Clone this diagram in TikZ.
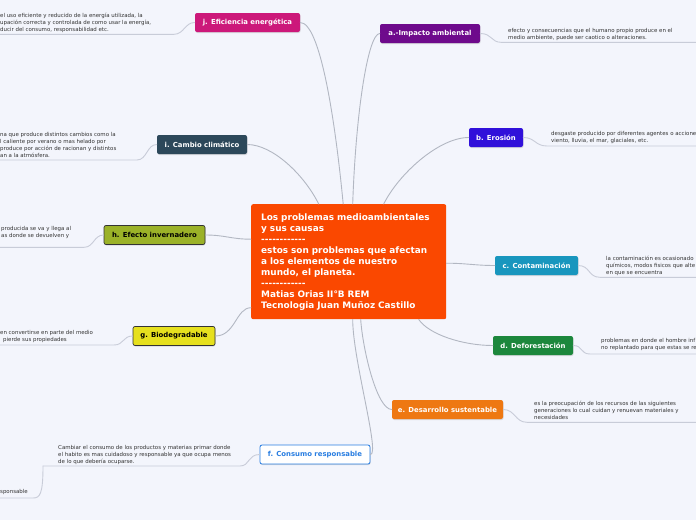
\documentclass[tikz,border=0pt]{standalone}
\usepackage{fontspec}
\setmainfont{DejaVu Sans}
\usetikzlibrary{shadows}
\definecolor{bgblue}{RGB}{243,245,252}
\definecolor{ctrorange}{RGB}{250,72,0}
\definecolor{jpink}{RGB}{204,24,122}
\definecolor{apurple}{RGB}{110,10,140}
\definecolor{bblue}{RGB}{48,16,218}
\definecolor{cteal}{RGB}{24,150,190}
\definecolor{dgreen}{RGB}{28,135,60}
\definecolor{eorange}{RGB}{238,120,18}
\definecolor{fblue}{RGB}{40,125,225}
\definecolor{gyellow}{RGB}{230,224,30}
\definecolor{holive}{RGB}{155,178,40}
\definecolor{islate}{RGB}{44,72,90}
\definecolor{linkgray}{RGB}{178,183,194}
\definecolor{leafgray}{RGB}{200,204,216}
\definecolor{notegray}{RGB}{50,50,50}
\newcommand\dashline{\mbox{-}\mbox{-}\mbox{-}\mbox{-}\mbox{-}\mbox{-}\mbox{-}\mbox{-}\mbox{-}\mbox{-}\mbox{-}\mbox{-}}

\begin{document}
\begin{tikzpicture}[x=1pt,y=-1pt,line cap=round,line join=round,
  topic/.style={rounded corners=2pt,minimum height=19pt,inner sep=0pt,text=white,
    font=\fontsize{6.9}{8}\selectfont\bfseries,
    drop shadow={shadow xshift=0.5pt,shadow yshift=-1pt,opacity=0.25}},
  link/.style={draw=linkgray,line width=0.9pt},
  leaf/.style={draw=leafgray,line width=0.9pt},
  note/.style={anchor=north west,inner sep=0pt,align=left,text=notegray,
    font=\fontsize{5.45}{7}\selectfont}]
\useasboundingbox (0,0) rectangle (696,520);
\fill[bgblue] (0,0) rectangle (696,520);
\clip (0,0) rectangle (696,520);

% central topic
\node[anchor=north west,fill=ctrorange,rounded corners=2pt,minimum width=195pt,minimum height=115pt,
  text width=175pt,inner xsep=10pt,inner ysep=0pt,align=left,text=white,
  font=\fontsize{8.9}{11}\selectfont\bfseries] (ctr) at (251,204)
  {Los problemas medioambientales\\ y sus causas\\ \dashline\\ estos son problemas que afectan\\ a los elementos de nuestro\\ mundo, el planeta.\\ \dashline\\ Matias Orias II°B REM\\ Tecnologia Juan Muñoz Castillo};

% main topics
\node[topic,fill=apurple,minimum width=100pt] (a) at (430,33.5) {a.-Impacto ambiental};
\node[topic,fill=bblue,minimum width=54pt] (b) at (496,137.5) {b. Erosión};
\node[topic,fill=cteal,minimum width=83pt] (c) at (536.5,265.5) {c. Contaminación};
\node[topic,fill=dgreen,minimum width=80pt] (d) at (533,345.5) {d. Deforestación};
\node[topic,fill=eorange,minimum width=111pt] (e) at (447.5,409.5) {e. Desarrollo sustentable};
\node[topic,fill=white,draw=fblue,line width=0.8pt,text=fblue,minimum width=110pt] (f) at (315,454.5) {f. Consumo responsable};
\node[topic,fill=gyellow,draw=black!80,line width=0.7pt,text=black,minimum width=82pt] (g) at (174,336) {g. Biodegradable};
\node[topic,fill=holive,draw=black!80,line width=0.7pt,text=black,minimum width=101pt] (h) at (154.5,235) {h. Efecto invernadero};
\node[topic,fill=islate,minimum width=90pt] (i) at (202,144.5) {i. Cambio climático};
\node[topic,fill=jpink,minimum width=105pt] (j) at (247.5,22.5) {j. Eficiencia energética};

% links from the centre
\draw[link] (j.east) .. controls +(20,0) and +(-8,-84) .. ([xshift=-5.5pt]ctr.north);
\draw[link] (a.west) .. controls +(-12,0) and +(3,-90) .. ([xshift=4pt]ctr.north);
\draw[link] (i.east) .. controls +(25,0) and +(-15,-30) .. ([xshift=-30pt]ctr.north);
\draw[link] (b.west) .. controls +(-30,0) and +(15,-30) .. ([xshift=35pt]ctr.north);
\draw[link] (h.east) .. controls +(20,0) and +(-20,0) .. ([yshift=22.5pt]ctr.west);
\draw[link] (c.west) .. controls +(-20,0) and +(20,0) .. ([yshift=-1.5pt]ctr.east);
\draw[link] (g.east) .. controls +(20,0) and +(-15,0) .. ([yshift=-46pt]ctr.west);
\draw[link] (d.west) .. controls +(-30,0) and +(10,15) .. ([xshift=70pt]ctr.south);
\draw[link] (e.west) .. controls +(-15,0) and +(2,30) .. ([xshift=12pt]ctr.south);
\draw[link] (f.east) .. controls +(10,0) and +(0,40) .. ([xshift=4pt]ctr.south);

% notes
\coordinate (al) at (501,42.3); \coordinate (ar) at (696,42.3);
\coordinate (bl) at (547,146); \coordinate (br) at (696,146);
\coordinate (cl) at (600,277.3); \coordinate (cr) at (696,277.3);
\coordinate (dl) at (590,354); \coordinate (dr) at (696,354);
\coordinate (el) at (527,422.3); \coordinate (er) at (696,422.3);
\coordinate (fl) at (240,466); \coordinate (fm) at (43,466);
\coordinate (fs) at (33,498); \coordinate (fs0) at (0,498);
\coordinate (gl) at (114,345); \coordinate (g0) at (0,345);
\coordinate (hl) at (84,247.3); \coordinate (h0) at (0,247.3);
\coordinate (il) at (137,160); \coordinate (i0) at (0,160);
\coordinate (jl) at (174,34.3); \coordinate (j0) at (0,34.3);

\draw[leaf] (a.east) .. controls +(12,0) and +(-10,0) .. (al) -- (ar);
\draw[leaf] (b.east) .. controls +(12,0) and +(-12,0) .. (bl) -- (br);
\draw[leaf] (c.east) .. controls +(12,0) and +(-12,0) .. (cl) -- (cr);
\draw[leaf] (d.east) .. controls +(10,0) and +(-10,0) .. (dl) -- (dr);
\draw[leaf] (e.east) .. controls +(12,0) and +(-12,0) .. (el) -- (er);
\draw[leaf] (f.west) .. controls +(-12,0) and +(10,0) .. (fl) -- (fm);
\draw[leaf] (fm) .. controls +(0,28) and +(7,0) .. (fs) -- (fs0);
\draw[leaf] (g.west) .. controls +(-10,0) and +(10,0) .. (gl) -- (g0);
\draw[leaf] (h.west) .. controls +(-10,0) and +(10,0) .. (hl) -- (h0);
\draw[leaf] (i.west) .. controls +(-10,0) and +(10,0) .. (il) -- (i0);
\draw[leaf] (j.west) .. controls +(-10,0) and +(10,0) .. (jl) -- (j0);

\node[note] (an) at (508,28) {efecto y consecuencias que el humano propio produce en el\\ medio ambiente, puede ser caotico o alteraciones.};
\node[note] (bn) at (551,131.5) {desgaste producido por diferentes agentes o accione\\ viento, lluvia, el mar, glaciales, etc.};
\node[note] (cn) at (606,256) {la contaminación es ocasionado\\ químicos, modos fisicos que alte\\ en que se encuentra};
\node[note] (dn) at (601,338.3) {problemas en donde el hombre inf\\ no replantado para que estas se re};
\node[note] (en) at (534,401) {es la preocupación de los recursos de las siguientes\\ generaciones lo cual cuidan y renuevan materiales y\\ necesidades};
\node[note] (fn) at (58,445) {Cambiar el consumo de los productos y materias primar donde\\ el habito es mas cuidadoso y responsable ya que ocupa menos\\ de lo que debería ocuparse.};
\node[note] (fsn) at (0,488.7) {sponsable};
\node[note] (gn) at (0,330) {en convertirse en parte del medio\\ \hspace{3pt}pierde sus propiedades};
\node[note] (hn) at (1,226) {producida se va y llega al\\ as donde se devuelven y};
\node[note] (in) at (0,132) {na que produce distintos cambios como la\\ l caliente por verano o mas helado por\\ produce por acción de racionan y distintos\\ an a la atmósfera.};
\node[note] (jn) at (0,12.7) {el uso eficiente y reducido de la energía utilizada, la\\ upación correcta y controlada de como usar la energía,\\ ducir del consumo, responsabilidad etc.};
\end{tikzpicture}
\end{document}
